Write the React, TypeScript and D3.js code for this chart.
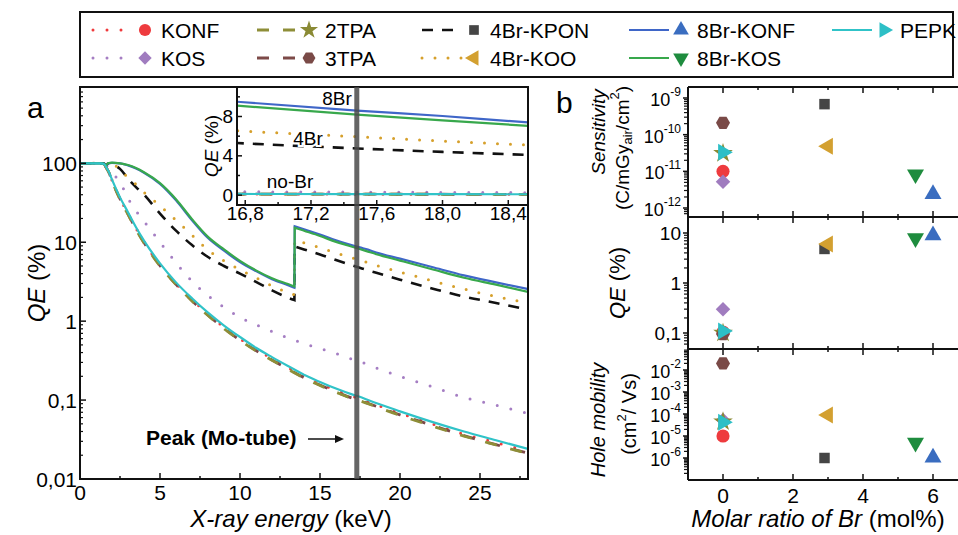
import React from "react";
import * as d3 from "d3";

const FONT = "'Liberation Sans', Arial, Helvetica, sans-serif";

// ---------- panel a: QE spectra (%) ----------
const energyNoBr = [0, 0.5, 1, 1.3, 1.5, 1.65, 1.8, 2, 2.5, 3, 3.5, 4, 5, 6, 7, 8, 9, 10, 11, 12, 13, 14, 15, 16, 17, 17.48, 18, 20, 22, 24, 26, 28];
const qeKONF = [100, 100, 100, 100, 98, 87.5, 77.5, 61, 36, 23, 15, 10.1, 5.2, 3.0, 1.88, 1.23, 0.84, 0.6, 0.44, 0.335, 0.258, 0.2, 0.161, 0.133, 0.112, 0.104, 0.095, 0.068, 0.05, 0.037, 0.029, 0.0225];
const qeKOS = [100, 100, 100, 100, 99, 93, 86, 76, 58, 36, 25, 18.5, 10, 5.5, 3.2, 2.1, 1.5, 1.12, 0.9, 0.74, 0.61, 0.52, 0.45, 0.39, 0.33, 0.31, 0.28, 0.2, 0.148, 0.108, 0.086, 0.068];
const qe2TPA = [100, 100, 100, 100, 98, 87, 77, 60, 35, 22.5, 14.5, 9.8, 5.0, 2.9, 1.8, 1.18, 0.8, 0.57, 0.42, 0.32, 0.245, 0.19, 0.153, 0.126, 0.105, 0.098, 0.09, 0.064, 0.047, 0.035, 0.027, 0.021];
const qe3TPA = [100, 100, 100, 100, 98, 87, 77, 60, 35.5, 22.8, 14.7, 9.9, 5.05, 2.92, 1.82, 1.19, 0.81, 0.575, 0.425, 0.322, 0.247, 0.192, 0.155, 0.127, 0.106, 0.099, 0.091, 0.065, 0.048, 0.0355, 0.0272, 0.0212];
const qePEPK = [100, 100, 100, 100, 98, 88, 78, 62, 37, 24, 15.5, 10.5, 5.4, 3.1, 1.95, 1.28, 0.88, 0.63, 0.46, 0.35, 0.27, 0.21, 0.17, 0.14, 0.118, 0.11, 0.1, 0.072, 0.053, 0.04, 0.031, 0.024];

const energyBr = [0, 0.5, 1, 1.3, 1.5, 1.6, 1.75, 2, 2.5, 3, 3.5, 4, 5, 6, 7, 8, 9, 10, 11, 12, 13, 13.4, 13.42, 14, 15, 16, 16.75, 17.48, 18, 18.52, 20, 22, 24, 26, 28];
const qe4BrKPON = [100, 100, 100, 100, 99, 93, 99, 97, 85, 64, 50, 40, 23, 14, 9.2, 6.5, 5.0, 4.0, 3.15, 2.45, 1.98, 1.85, 8.8, 8.1, 7.0, 5.95, 5.3, 4.75, 4.4, 4.1, 3.35, 2.6, 2.05, 1.7, 1.4];
const qe4BrKOO = [100, 100, 100, 100, 99, 93, 99, 99, 82, 66, 54, 43, 29, 19, 12.3, 8.0, 5.8, 4.5, 3.55, 2.8, 2.3, 2.15, 10.6, 9.8, 8.5, 7.3, 6.55, 5.95, 5.5, 5.1, 4.2, 3.25, 2.55, 2.05, 1.7];
const qe8BrKONF = [100, 100, 100, 100, 99, 93, 99, 101, 100, 94, 86, 76, 55, 34, 19, 11.3, 7.8, 5.6, 4.3, 3.4, 2.85, 2.65, 15.9, 14.6, 12.5, 10.6, 9.5, 8.6, 8.05, 7.4, 6.2, 4.85, 3.8, 3.1, 2.55];
const qe8BrKOS = [100, 100, 100, 100, 99, 93, 100, 102, 100, 95, 87, 77, 56, 35, 19.6, 11.7, 8.1, 5.8, 4.4, 3.5, 2.95, 2.75, 15.3, 14.0, 12.0, 10.1, 9.1, 8.2, 7.6, 7.05, 5.85, 4.55, 3.55, 2.9, 2.35];

const brKEdge = 13.41; // keV, jump of the Br containing films
const moPeak = 17.3; // keV, grey line

const xTicksA = [0, 5, 10, 15, 20, 25];
const yTicksA = [0.01, 0.1, 1, 10, 100];
const yTickLabelsA = ["0,01", "0,1", "1", "10", "100"];
const xTicksInset = [16.8, 17.2, 17.6, 18.0, 18.4];
const xTickLabelsInset = ["16,8", "17,2", "17,6", "18,0", "18,4"];
const yTicksInset = [0, 4, 8];

// ---------- panel b: figures of merit ----------
const samples = ["KONF", "KOS", "2TPA", "3TPA", "4Br-KPON", "4Br-KOO", "8Br-KONF", "8Br-KOS", "PEPK"];
const brRatio = [0, 0, 0, 0, 2.9, 3.0, 6.0, 5.5, 0];
const sensitivity = [1.0e-11, 5.2e-12, 3.1e-11, 2.1e-10, 6.8e-10, 4.8e-11, 2.4e-12, 8.3e-12, 3.3e-11];
const qeAtPeak = [0.105, 0.3, 0.1, 0.095, 4.8, 6.0, 9.0, 7.9, 0.11];
const holeMobility = [1.0e-5, 5.3e-5, 4.5e-5, 2.0e-2, 1.0e-6, 9.0e-5, 1.05e-6, 5.0e-6, 4.2e-5];
const xTicksB = [0, 2, 4, 6];
const sensExps = [-12, -11, -10, -9];
const qeTicksB = [0.1, 1, 10];
const qeTickLabelsB = ["0,1", "1", "10"];
const mobExps = [-6, -5, -4, -3, -2];

// legend layout (columns of sample names)
const legendCols = [["KONF", "KOS"], ["2TPA", "3TPA"], ["4Br-KPON", "4Br-KOO"], ["8Br-KONF", "8Br-KOS"], ["PEPK"]];

type Style = { color: string; dash: string | null; width: number; marker: string; mcolor: string };
const styles: Record<string, Style> = {
  KONF: { color: "#EF3A3C", dash: "0 14", width: 3, marker: "circle", mcolor: "#EE3B3E" },
  KOS: { color: "#A57EC3", dash: "0 14", width: 3, marker: "diamond", mcolor: "#A07CBF" },
  "2TPA": { color: "#8E8E38", dash: "12 14", width: 2.8, marker: "star", mcolor: "#8A8A34" },
  "3TPA": { color: "#7D4A48", dash: "12 14", width: 2.8, marker: "hexagon", mcolor: "#7A4A47" },
  "4Br-KPON": { color: "#111111", dash: "11 9", width: 2.6, marker: "square", mcolor: "#454545" },
  "4Br-KOO": { color: "#D6A02C", dash: "0 13", width: 3, marker: "left", mcolor: "#D3A030" },
  "8Br-KONF": { color: "#3F66C8", dash: null, width: 2.2, marker: "up", mcolor: "#3A6DC0" },
  "8Br-KOS": { color: "#38A84C", dash: null, width: 2.2, marker: "down", mcolor: "#1E8C3E" },
  PEPK: { color: "#30C3C8", dash: null, width: 2.2, marker: "right", mcolor: "#2DBFC6" },
};

const curves = [
  { name: "KONF", e: energyNoBr, q: qeKONF },
  { name: "KOS", e: energyNoBr, q: qeKOS },
  { name: "3TPA", e: energyNoBr, q: qe3TPA },
  { name: "2TPA", e: energyNoBr, q: qe2TPA },
  { name: "4Br-KPON", e: energyBr, q: qe4BrKPON },
  { name: "4Br-KOO", e: energyBr, q: qe4BrKOO },
  { name: "8Br-KONF", e: energyBr, q: qe8BrKONF },
  { name: "8Br-KOS", e: energyBr, q: qe8BrKOS },
  { name: "PEPK", e: energyNoBr, q: qePEPK },
];

// scales
const xA = d3.scaleLinear().domain([0, 28]).range([80, 528]);
const yA = d3.scaleLog().domain([0.01, 100]).range([479, 163.3]);
const A = { left: 80, right: 528, top: 87, bottom: 479 };
const xIn = d3.scaleLinear().domain([16.75, 18.52]).range([237, 528]);
const yIn = d3.scaleLinear().domain([-1, 11]).range([205, 87]);
const I = { left: 237, right: 528, top: 87, bottom: 205 };
const xB = d3.scaleLinear().domain([-1, 7]).range([688, 968]);

const subPanels = [
  { key: "sens", y: d3.scaleLog().domain([1e-12, 1e-9]).range([208, 98]), top: 87, bottom: 217, values: sensitivity },
  { key: "qe", y: d3.scaleLog().domain([0.1, 10]).range([333, 233]), top: 217, bottom: 349, values: qeAtPeak },
  { key: "mob", y: d3.scaleLog().domain([1e-6, 1e-2]).range([458, 370]), top: 349, bottom: 480, values: holeMobility },
];

function curvePath(e: number[], q: number[], xs: any, ys: any) {
  const pts: [number, number][] = e.map((v, i) => [v, q[i]]);
  const line = d3.line<[number, number]>().x(d => xs(d[0])).y(d => ys(d[1])).curve(d3.curveMonotoneX);
  const pre = pts.filter(d => d[0] < brKEdge);
  const post = pts.filter(d => d[0] > brKEdge);
  if (!post.length || pre.length === pts.length) return line(pts) || "";
  return (line(pre) || "") + (line(post) || "").replace(/^M/, "L");
}

function Marker({ shape, x, y, color, scale = 1 }: { shape: string; x: number; y: number; color: string; scale?: number }) {
  let d = "";
  let rot = 0;
  if (shape === "circle") d = d3.symbol(d3.symbolCircle, 135 * scale)() || "";
  else if (shape === "diamond") { d = d3.symbol(d3.symbolSquare, 105 * scale)() || ""; rot = 45; }
  else if (shape === "square") d = d3.symbol(d3.symbolSquare, 110 * scale)() || "";
  else if (shape === "star") d = d3.symbol(d3.symbolStar, 120 * scale)() || "";
  else if (shape === "hexagon") {
    const r = 7 * Math.sqrt(scale);
    d = (d3.line()(d3.range(6).map(i => [r * Math.cos((i * Math.PI) / 3), r * Math.sin((i * Math.PI) / 3)] as [number, number])) || "") + "Z";
  } else {
    d = d3.symbol(d3.symbolTriangle, 125 * scale)() || "";
    rot = shape === "down" ? 180 : shape === "left" ? -90 : shape === "right" ? 90 : 0;
  }
  return <path d={d} fill={color} transform={`translate(${x},${y}) rotate(${rot})`} />;
}

function logMinor(y: any, top: number, bottom: number) {
  const lo = Math.floor(Math.log10(y.invert(bottom)));
  const hi = Math.ceil(Math.log10(y.invert(top)));
  const out: number[] = [];
  for (let e = lo; e <= hi; e++) {
    for (let k = 2; k <= 9; k++) {
      const py = y(k * Math.pow(10, e));
      if (py > top + 1 && py < bottom - 1) out.push(py);
    }
  }
  return out;
}

function SupLabel({ x, y, exp }: { x: number; y: number; exp: number }) {
  return (
    <text x={x} y={y} textAnchor="end" fontSize={18} dominantBaseline="central">
      10<tspan dy={-8} fontSize={12}>{String(exp)}</tspan>
    </text>
  );
}

export default function App() {
  const minorA = logMinor(yA, A.top, A.bottom);
  const insetMinor = xTicksInset.map(t => t + 0.2).filter(t => xIn(t) < I.right - 1);
  return (
    <svg width={958} height={535} style={{ position: "absolute", left: 0, top: 0, background: "#fff" }} fontFamily={FONT}>
      <defs>
        <clipPath id="clipA"><rect x={A.left} y={A.top} width={A.right - A.left} height={A.bottom - A.top} /></clipPath>
        <clipPath id="clipI"><rect x={I.left} y={I.top} width={I.right - I.left} height={I.bottom - I.top} /></clipPath>
      </defs>
      <rect width={958} height={535} fill="#fff" />

      {/* legend */}
      <rect x={80} y={12} width={873} height={65} fill="none" stroke="#111" strokeWidth={2} />
      {legendCols.map((col, ci) => {
        const x0 = [93, 257, 422, 629, 832][ci];
        return col.map((name, ri) => {
          const st = styles[name];
          const y = 30 + ri * 28;
          return (
            <g key={name}>
              <line x1={x0} x2={x0 + 40} y1={y} y2={y} stroke={st.color} strokeWidth={st.width}
                strokeDasharray={st.dash || undefined} strokeLinecap={st.dash && st.dash.startsWith("0") ? "round" : "butt"} />
              <Marker shape={st.marker} x={x0 + 52} y={y} color={st.mcolor} scale={0.85} />
              <text x={x0 + 68} y={y} fontSize={21} dominantBaseline="central">{name}</text>
            </g>
          );
        });
      })}

      {/* panel a */}
      <text x={27} y={118} fontSize={30}>a</text>
      <g clipPath="url(#clipA)">
        {curves.map(c => {
          const st = styles[c.name];
          return (
            <path key={c.name} d={curvePath(c.e, c.q, xA, yA)} fill="none" stroke={st.color} strokeWidth={st.width}
              strokeDasharray={st.dash || undefined} strokeDashoffset={c.name === "2TPA" ? 3 : 0}
              strokeLinecap={st.dash && st.dash.startsWith("0") ? "round" : "butt"} />
          );
        })}
      </g>
      {/* axes a */}
      <path d={`M${A.left},${A.top}H${A.right}V${A.bottom}H${A.left}Z`} fill="none" stroke="#111" strokeWidth={2} />
      {xTicksA.map(t => (
        <g key={t}>
          <line x1={xA(t)} x2={xA(t)} y1={A.bottom} y2={A.bottom - 6} stroke="#111" strokeWidth={1.5} />
          <text x={xA(t)} y={500} fontSize={21} textAnchor="middle">{t}</text>
        </g>
      ))}
      {xTicksA.map(t => (
        <line key={"m" + t} x1={xA(t + 2.5)} x2={xA(t + 2.5)} y1={A.bottom} y2={A.bottom - 3} stroke="#111" strokeWidth={1.5} />
      ))}
      {yTicksA.map((t, i) => (
        <g key={t}>
          <line x1={A.left} x2={A.left + 6} y1={yA(t)} y2={yA(t)} stroke="#111" strokeWidth={1.5} />
          <text x={77} y={yA(t)} fontSize={21} textAnchor="end" dominantBaseline="central">{yTickLabelsA[i]}</text>
        </g>
      ))}
      {minorA.map(py => <line key={py} x1={A.left} x2={A.left + 3} y1={py} y2={py} stroke="#111" strokeWidth={1.2} />)}
      <text transform="translate(36,283) rotate(-90)" fontSize={24} textAnchor="middle" dominantBaseline="central">
        <tspan fontStyle="italic">QE</tspan> (%)
      </text>
      <text x={291} y={527} fontSize={24} textAnchor="middle">
        <tspan fontStyle="italic">X-ray energy</tspan> (keV)
      </text>
      <text x={146} y={445} fontSize={21} fontWeight="bold">Peak (Mo-tube)</text>
      <line x1={308} x2={337} y1={439} y2={439} stroke="#111" strokeWidth={1.5} />
      <path d="M335,435L344,439L335,443Z" fill="#111" />

      {/* inset */}
      <rect x={I.left} y={I.top} width={I.right - I.left} height={I.bottom - I.top} fill="#fff" />
      <g clipPath="url(#clipI)">
        {curves.map(c => {
          const st = styles[c.name];
          return (
            <path key={c.name} d={curvePath(c.e, c.q, xIn, yIn)} fill="none" stroke={st.color} strokeWidth={st.width}
              strokeDasharray={st.dash || undefined} strokeLinecap={st.dash && st.dash.startsWith("0") ? "round" : "butt"} />
          );
        })}
      </g>
      <rect x={I.left} y={I.top} width={I.right - I.left} height={I.bottom - I.top} fill="none" stroke="#111" strokeWidth={2} />
      {xTicksInset.map((t, i) => (
        <g key={t}>
          <line x1={xIn(t)} x2={xIn(t)} y1={I.bottom} y2={I.bottom - 5} stroke="#111" strokeWidth={1.5} />
          <text x={xIn(t)} y={220} fontSize={19} textAnchor="middle">{xTickLabelsInset[i]}</text>
        </g>
      ))}
      {insetMinor.map(t => (
        <line key={t} x1={xIn(t)} x2={xIn(t)} y1={I.bottom} y2={I.bottom - 3} stroke="#111" strokeWidth={1.5} />
      ))}
      {yTicksInset.map(t => (
        <g key={t}>
          <line x1={I.left} x2={I.left + 5} y1={yIn(t)} y2={yIn(t)} stroke="#111" strokeWidth={1.5} />
          <line x1={I.left} x2={I.left + 3} y1={yIn(t + 2)} y2={yIn(t + 2)} stroke="#111" strokeWidth={1.5} />
          <text x={233} y={yIn(t)} fontSize={19} textAnchor="end" dominantBaseline="central">{t}</text>
        </g>
      ))}
      <text transform="translate(211,146) rotate(-90)" fontSize={19} textAnchor="middle" dominantBaseline="central">
        <tspan fontStyle="italic">QE</tspan> (%)
      </text>
      <text x={337} y={105} fontSize={19} textAnchor="middle">8Br</text>
      <text x={308} y={145} fontSize={19} textAnchor="middle" stroke="#fff" strokeWidth={4} paintOrder="stroke">4Br</text>
      <text x={290} y={188} fontSize={19} textAnchor="middle">no-Br</text>

      {/* Mo peak */}
      <line x1={xA(moPeak)} x2={xA(moPeak)} y1={A.top} y2={A.bottom} stroke="#4a4a4a" strokeOpacity={0.85} strokeWidth={5} />

      {/* panel b */}
      <text x={556} y={113} fontSize={30}>b</text>
      {subPanels.map(sp => (
        <g key={sp.key}>
          {samples.map((s, i) => {
            const st = styles[s];
            return <Marker key={s} shape={st.marker} x={xB(brRatio[i])} y={sp.y(sp.values[i])} color={st.mcolor} />;
          })}
          {logMinor(sp.y, sp.top, sp.bottom).map(py => (
            <line key={py} x1={688} x2={684} y1={py} y2={py} stroke="#111" strokeWidth={1.2} />
          ))}
          {xTicksB.map(t => (
            <g key={t}>
              <line x1={xB(t)} x2={xB(t)} y1={sp.bottom} y2={sp.bottom - 6} stroke="#111" strokeWidth={1.5} />
              <line x1={xB(t)} x2={xB(t)} y1={sp.top} y2={sp.top + 6} stroke="#111" strokeWidth={1.5} />
              <line x1={xB(t + 1)} x2={xB(t + 1)} y1={sp.bottom} y2={sp.bottom - 3} stroke="#111" strokeWidth={1.5} />
              <line x1={xB(t + 1)} x2={xB(t + 1)} y1={sp.top} y2={sp.top + 3} stroke="#111" strokeWidth={1.5} />
            </g>
          ))}
          <line x1={688} x2={958} y1={sp.top} y2={sp.top} stroke="#111" strokeWidth={2} />
        </g>
      ))}
      <line x1={688} x2={958} y1={480} y2={480} stroke="#111" strokeWidth={2} />
      <line x1={688} x2={688} y1={87} y2={480} stroke="#111" strokeWidth={2} />
      {sensExps.map(e => (
        <g key={e}>
          <line x1={688} x2={683} y1={subPanels[0].y(Math.pow(10, e))} y2={subPanels[0].y(Math.pow(10, e))} stroke="#111" strokeWidth={1.5} />
          <SupLabel x={681} y={subPanels[0].y(Math.pow(10, e)) + 2} exp={e} />
        </g>
      ))}
      {qeTicksB.map((t, i) => (
        <g key={t}>
          <line x1={688} x2={683} y1={subPanels[1].y(t)} y2={subPanels[1].y(t)} stroke="#111" strokeWidth={1.5} />
          <text x={681} y={subPanels[1].y(t)} fontSize={19} textAnchor="end" dominantBaseline="central">{qeTickLabelsB[i]}</text>
        </g>
      ))}
      {mobExps.map(e => (
        <g key={e}>
          <line x1={688} x2={683} y1={subPanels[2].y(Math.pow(10, e))} y2={subPanels[2].y(Math.pow(10, e))} stroke="#111" strokeWidth={1.5} />
          <SupLabel x={681} y={subPanels[2].y(Math.pow(10, e)) + 2} exp={e} />
        </g>
      ))}
      {xTicksB.map(t => (
        <text key={t} x={xB(t)} y={503} fontSize={21} textAnchor="middle">{t}</text>
      ))}
      <text x={818} y={527} fontSize={24} textAnchor="middle">
        <tspan fontStyle="italic">Molar ratio of Br</tspan> (mol%)
      </text>
      <text transform="translate(598,132) rotate(-90)" fontSize={19} fontStyle="italic" textAnchor="middle" dominantBaseline="central">Sensitivity</text>
      <text transform="translate(622,148) rotate(-90)" fontSize={19} textAnchor="middle" dominantBaseline="central">
        (C/mGy<tspan dy={5} fontSize={13}>air</tspan><tspan dy={-5}>/cm</tspan><tspan dy={-8} fontSize={13}>2</tspan><tspan dy={8}>)</tspan>
      </text>
      <text transform="translate(617,283) rotate(-90)" fontSize={22} textAnchor="middle" dominantBaseline="central">
        <tspan fontStyle="italic">QE</tspan> (%)
      </text>
      <text transform="translate(598,420) rotate(-90)" fontSize={20} fontStyle="italic" textAnchor="middle" dominantBaseline="central">Hole mobility</text>
      <text transform="translate(629,414) rotate(-90)" fontSize={20} textAnchor="middle" dominantBaseline="central">
        (cm<tspan dy={-8} fontSize={13}>2</tspan><tspan dy={8}>/ Vs)</tspan>
      </text>
    </svg>
  );
}
